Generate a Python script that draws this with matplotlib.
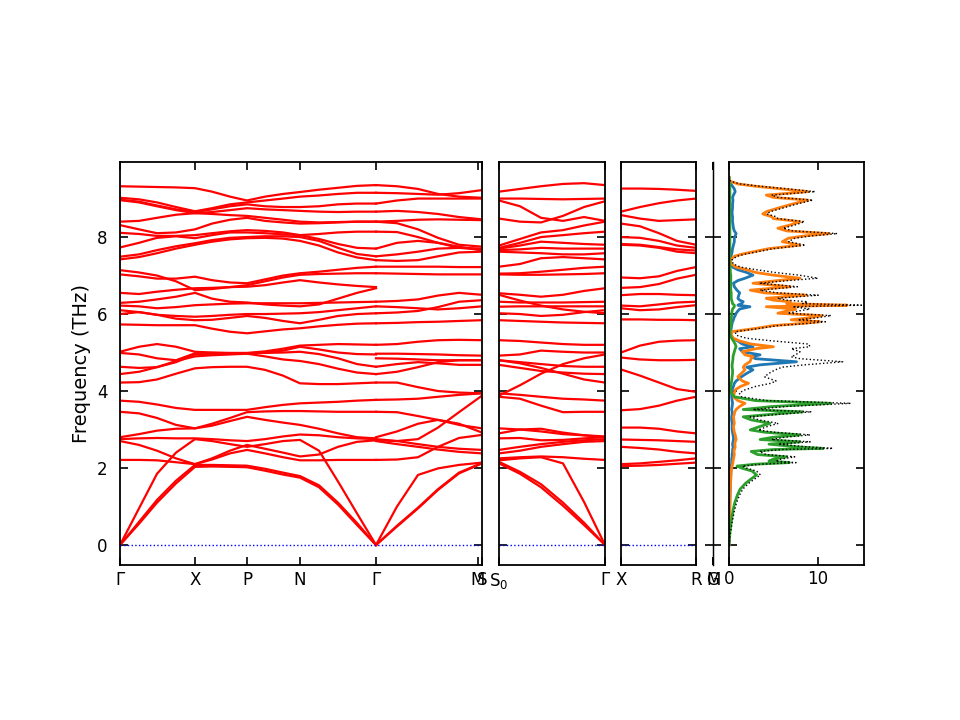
import matplotlib
matplotlib.use("Agg")
import matplotlib.pyplot as plt
import numpy as np

plt.rcParams['font.family'] = ['DejaVu Sans']
plt.rcParams['font.size'] = 12

# ---------------- band structure data (THz) ----------------
# Path A: Gamma-X-P-N-Gamma (path distance, arbitrary units)
qA = [0, 19, 37, 56, 75, 92, 110, 127, 145, 163, 180, 199, 218, 237, 256]
bands_A = [
    [0, .55, 1.10, 1.60, 2.03, 2.04, 2.03, 2.02, 1.93, 1.83, 1.75, 1.50, 1.05, .52, 0],
    [0, .60, 1.17, 1.67, 2.08, 2.08, 2.07, 2.06, 1.98, 1.88, 1.79, 1.55, 1.10, .57, 0],
    [0, .95, 1.85, 2.40, 2.75, 2.70, 2.62, 2.55, 2.62, 2.70, 2.73, 2.45, 1.65, .82, 0],
    [2.21, 2.21, 2.20, 2.15, 2.10, 2.22, 2.38, 2.47, 2.38, 2.28, 2.20, 2.20, 2.21, 2.21, 2.21],
    [2.70, 2.60, 2.45, 2.25, 2.10, 2.25, 2.45, 2.60, 2.50, 2.40, 2.30, 2.35, 2.55, 2.68, 2.72],
    [2.75, 2.77, 2.78, 2.77, 2.77, 2.75, 2.72, 2.70, 2.75, 2.82, 2.87, 2.85, 2.80, 2.77, 2.75],
    [2.80, 2.88, 2.97, 3.02, 3.03, 3.15, 3.30, 3.45, 3.47, 3.48, 3.48, 3.47, 3.46, 3.46, 3.46],
    [3.75, 3.72, 3.65, 3.56, 3.51, 3.51, 3.51, 3.51, 3.58, 3.64, 3.68, 3.70, 3.72, 3.75, 3.77],
    [3.46, 3.42, 3.30, 3.12, 3.03, 3.10, 3.22, 3.33, 3.25, 3.18, 3.12, 3.02, 2.90, 2.80, 2.77],
    [4.22, 4.23, 4.30, 4.45, 4.59, 4.62, 4.63, 4.63, 4.55, 4.40, 4.20, 4.18, 4.18, 4.20, 4.22],
    [4.44, 4.50, 4.62, 4.78, 4.90, 4.93, 4.95, 4.97, 4.90, 4.82, 4.78, 4.70, 4.58, 4.48, 4.44],
    [4.63, 4.60, 4.62, 4.75, 4.95, 4.97, 4.98, 4.98, 4.99, 5.00, 5.02, 4.96, 4.85, 4.70, 4.63],
    [4.99, 4.95, 4.85, 4.80, 4.98, 4.99, 4.98, 4.98, 5.00, 5.05, 5.15, 5.08, 5.00, 4.96, 4.95],
    [5.02, 5.15, 5.22, 5.15, 5.02, 5.00, 4.99, 4.99, 5.03, 5.10, 5.18, 5.20, 5.22, 5.21, 5.20],
    [5.73, 5.72, 5.71, 5.71, 5.71, 5.62, 5.54, 5.50, 5.55, 5.60, 5.63, 5.68, 5.72, 5.75, 5.76],
    [6.00, 6.05, 5.98, 5.88, 5.84, 5.85, 5.90, 5.95, 5.90, 5.82, 5.76, 5.85, 5.95, 6.00, 6.02],
    [6.10, 6.05, 5.98, 5.95, 5.93, 5.95, 5.98, 6.00, 6.00, 6.01, 6.02, 6.05, 6.10, 6.15, 6.20],
    [6.22, 6.20, 6.15, 6.18, 6.23, 6.25, 6.27, 6.28, 6.28, 6.28, 6.28, 6.29, 6.30, 6.31, 6.32],
    [6.29, 6.32, 6.38, 6.45, 6.55, 6.40, 6.32, 6.30, 6.25, 6.22, 6.20, 6.25, 6.40, 6.55, 6.67],
    [6.55, 6.52, 6.58, 6.63, 6.67, 6.68, 6.70, 6.71, 6.75, 6.82, 6.88, 6.82, 6.77, 6.73, 6.70],
    [7.03, 6.98, 6.92, 6.92, 6.97, 6.88, 6.82, 6.80, 6.90, 7.00, 7.06, 7.10, 7.15, 7.20, 7.23],
    [7.14, 7.08, 7.00, 6.85, 6.62, 6.65, 6.70, 6.75, 6.85, 6.95, 7.02, 7.04, 7.05, 7.06, 7.06],
    [7.42, 7.48, 7.58, 7.70, 7.80, 7.88, 7.94, 7.97, 7.98, 7.96, 7.90, 7.78, 7.60, 7.47, 7.40],
    [7.49, 7.55, 7.66, 7.76, 7.84, 7.92, 7.98, 8.00, 8.02, 8.02, 8.00, 7.90, 7.72, 7.56, 7.50],
    [7.73, 7.85, 7.98, 8.02, 7.97, 8.05, 8.12, 8.12, 8.10, 8.07, 8.05, 7.95, 7.82, 7.72, 7.70],
    [8.11, 8.08, 8.03, 8.03, 8.05, 8.10, 8.15, 8.18, 8.16, 8.12, 8.05, 8.08, 8.12, 8.14, 8.14],
    [8.31, 8.20, 8.10, 8.12, 8.20, 8.35, 8.45, 8.50, 8.42, 8.38, 8.35, 8.36, 8.38, 8.40, 8.40],
    [8.40, 8.42, 8.50, 8.58, 8.62, 8.60, 8.57, 8.55, 8.50, 8.45, 8.40, 8.38, 8.39, 8.40, 8.40],
    [8.96, 8.90, 8.80, 8.70, 8.62, 8.65, 8.70, 8.75, 8.72, 8.70, 8.68, 8.66, 8.65, 8.66, 8.66],
    [8.97, 8.92, 8.82, 8.72, 8.65, 8.72, 8.80, 8.85, 8.80, 8.78, 8.78, 8.80, 8.85, 8.87, 8.87],
    [9.02, 8.98, 8.90, 8.78, 8.67, 8.75, 8.85, 8.90, 8.95, 9.00, 9.05, 9.08, 9.12, 9.15, 9.15],
    [9.32, 9.31, 9.30, 9.29, 9.27, 9.18, 9.05, 8.95, 9.05, 9.12, 9.17, 9.23, 9.28, 9.33, 9.35],
]

# Path B: Gamma-M-S
qB = [256, 277, 298, 318, 339, 362]
bands_B = [
    [0, .48, .95, 1.43, 1.86, 2.12],
    [0, .50, .97, 1.45, 1.88, 2.13],
    [0, 1.00, 1.82, 1.99, 2.08, 2.14],
    [2.21, 2.22, 2.28, 2.55, 2.78, 2.86],
    [2.72, 2.70, 2.75, 3.05, 3.45, 3.88],
    [2.75, 2.70, 2.62, 2.55, 2.50, 2.47],
    [2.80, 2.95, 3.15, 3.25, 3.15, 2.92],
    [3.46, 3.45, 3.35, 3.25, 3.12, 3.03],
    [3.77, 3.78, 3.80, 3.85, 3.90, 3.94],
    [2.70, 2.62, 2.55, 2.48, 2.42, 2.38],
    [4.22, 4.22, 4.10, 4.00, 3.96, 3.94],
    [4.44, 4.50, 4.62, 4.75, 4.80, 4.80],
    [4.63, 4.70, 4.75, 4.72, 4.68, 4.68],
    [4.85, 4.84, 4.82, 4.80, 4.80, 4.80],
    [5.20, 5.22, 5.28, 5.32, 5.33, 5.32],
    [4.97, 4.97, 4.96, 4.95, 4.93, 4.92],
    [5.76, 5.77, 5.79, 5.80, 5.82, 5.84],
    [6.02, 6.04, 6.08, 6.18, 6.32, 6.36],
    [6.20, 6.18, 6.15, 6.12, 6.15, 6.20],
    [6.32, 6.34, 6.38, 6.48, 6.55, 6.50],
    [7.06, 7.05, 7.04, 7.03, 7.03, 7.03],
    [7.23, 7.23, 7.23, 7.23, 7.22, 7.22],
    [7.40, 7.38, 7.40, 7.50, 7.60, 7.62],
    [7.50, 7.55, 7.62, 7.70, 7.72, 7.68],
    [7.70, 7.85, 7.90, 7.85, 7.75, 7.65],
    [8.14, 8.13, 8.00, 7.85, 7.72, 7.70],
    [8.40, 8.36, 8.20, 7.98, 7.80, 7.75],
    [8.40, 8.42, 8.45, 8.46, 8.45, 8.44],
    [8.66, 8.68, 8.65, 8.60, 8.52, 8.46],
    [8.87, 8.95, 9.00, 9.00, 9.00, 9.00],
    [9.15, 9.14, 9.12, 9.10, 9.14, 9.22],
    [9.35, 9.32, 9.25, 9.12, 9.05, 9.02],
]

# Panel 2: S0-Gamma
q2 = [0, 21, 42, 64, 85, 106]
bands_2 = [
    [2.12, 1.85, 1.50, 1.02, 0.52, 0],
    [2.16, 1.90, 1.58, 1.10, 0.58, 0],
    [2.20, 2.25, 2.28, 2.12, 1.12, 0],
    [2.25, 2.28, 2.30, 2.28, 2.24, 2.21],
    [2.38, 2.45, 2.55, 2.62, 2.68, 2.70],
    [2.47, 2.55, 2.62, 2.68, 2.72, 2.75],
    [2.77, 2.78, 2.72, 2.73, 2.77, 2.80],
    [2.90, 3.00, 3.02, 2.92, 2.85, 2.82],
    [3.03, 3.00, 2.95, 2.88, 2.85, 2.80],
    [3.85, 3.80, 3.62, 3.45, 3.46, 3.46],
    [3.94, 3.90, 3.85, 3.80, 3.78, 3.75],
    [3.88, 4.15, 4.45, 4.70, 4.85, 4.95],
    [4.68, 4.60, 4.52, 4.48, 4.45, 4.44],
    [4.80, 4.75, 4.70, 4.65, 4.63, 4.63],
    [4.80, 4.72, 4.60, 4.45, 4.30, 4.22],
    [4.92, 4.95, 5.05, 5.02, 5.00, 5.00],
    [5.32, 5.30, 5.26, 5.22, 5.20, 5.20],
    [5.84, 5.82, 5.80, 5.78, 5.77, 5.76],
    [6.02, 6.00, 5.95, 5.98, 6.05, 6.10],
    [6.19, 6.20, 6.20, 6.20, 6.20, 6.20],
    [6.32, 6.30, 6.30, 6.30, 6.31, 6.32],
    [6.50, 6.35, 6.22, 6.12, 6.06, 6.02],
    [6.54, 6.50, 6.45, 6.50, 6.60, 6.67],
    [7.03, 7.02, 7.02, 7.03, 7.04, 7.06],
    [7.05, 7.06, 7.10, 7.15, 7.20, 7.23],
    [7.23, 7.30, 7.45, 7.48, 7.45, 7.42],
    [7.62, 7.60, 7.58, 7.55, 7.55, 7.58],
    [7.66, 7.68, 7.72, 7.70, 7.70, 7.70],
    [7.70, 7.78, 7.88, 7.85, 7.82, 7.80],
    [7.72, 7.85, 8.00, 8.05, 8.10, 8.14],
    [7.78, 7.95, 8.12, 8.18, 8.30, 8.40],
    [8.48, 8.40, 8.38, 8.55, 8.78, 8.93],
    [8.95, 8.80, 8.50, 8.42, 8.52, 8.42],
    [9.00, 9.00, 8.99, 8.98, 8.99, 9.00],
    [9.18, 9.25, 9.32, 9.38, 9.40, 9.35],
]

# Panel 3: X-R
q3 = [0, 19, 38, 56, 75]
bands_3 = [
    [9.26, 9.26, 9.25, 9.23, 9.20],
    [8.66, 8.78, 8.88, 8.95, 9.00],
    [8.57, 8.48, 8.42, 8.44, 8.46],
    [8.35, 8.28, 8.10, 7.90, 7.80],
    [8.00, 7.98, 7.90, 7.78, 7.72],
    [7.82, 7.80, 7.74, 7.68, 7.65],
    [7.80, 7.78, 7.72, 7.62, 7.58],
    [6.95, 6.93, 6.98, 7.12, 7.22],
    [6.68, 6.70, 6.78, 6.92, 7.02],
    [6.49, 6.52, 6.52, 6.50, 6.49],
    [6.22, 6.20, 6.25, 6.30, 6.32],
    [6.15, 6.10, 6.12, 6.18, 6.23],
    [5.86, 5.86, 5.85, 5.85, 5.84],
    [5.00, 5.18, 5.28, 5.31, 5.32],
    [4.87, 4.82, 4.80, 4.80, 4.81],
    [4.56, 4.40, 4.22, 4.05, 3.98],
    [3.50, 3.53, 3.62, 3.75, 3.85],
    [3.05, 3.05, 3.02, 2.95, 2.90],
    [2.74, 2.73, 2.72, 2.70, 2.68],
    [2.55, 2.52, 2.48, 2.42, 2.38],
    [2.10, 2.12, 2.16, 2.20, 2.25],
    [2.05, 2.06, 2.08, 2.11, 2.14],
]

# Panel 4: G-M (very short)
q4 = [0, 2]

# tick labels of each band panel
ticks_1 = [0, 75, 127, 180, 256, 358, 362]
labels_1 = ['Γ', 'X', 'P', 'N', 'Γ', 'M', 'S']
ticks_2 = [0, 106]
labels_2 = ['S$_0$', 'Γ']
ticks_3 = [0, 75]
labels_3 = ['X', 'R']
ticks_4 = [0, 2]
labels_4 = ['G', 'M']

# ---------------- DOS data ----------------
dos_freq = [0.00, 0.30, 0.60, 0.90, 1.10, 1.30, 1.45, 1.60, 1.70, 1.82, 1.92, 2.00, 2.05, 2.10,
            2.14, 2.18, 2.23, 2.29, 2.35, 2.43, 2.48, 2.51, 2.55, 2.62, 2.68, 2.74, 2.80, 2.86,
            2.93, 2.99, 3.08, 3.16, 3.25, 3.33, 3.40, 3.46, 3.52, 3.60, 3.68, 3.75, 3.85, 3.95,
            4.03, 4.12, 4.20, 4.26, 4.37, 4.46, 4.55, 4.62, 4.68, 4.76, 4.84, 4.89, 4.94, 5.02,
            5.10, 5.15, 5.22, 5.30, 5.37, 5.45, 5.54, 5.63, 5.70, 5.76, 5.80, 5.85, 5.90, 5.96,
            6.02, 6.08, 6.13, 6.19, 6.23, 6.27, 6.32, 6.36, 6.41, 6.49, 6.55, 6.62, 6.71, 6.80,
            6.87, 6.93, 7.01, 7.08, 7.15, 7.22, 7.30, 7.40, 7.50, 7.56, 7.62, 7.70, 7.79, 7.88,
            7.97, 8.03, 8.09, 8.16, 8.23, 8.32, 8.40, 8.48, 8.53, 8.60, 8.66, 8.75, 8.85, 8.96,
            9.03, 9.09, 9.18, 9.25, 9.32, 9.38, 9.45, 9.55]
dos_blue = [0, .02, .05, .08, .10, .12, .14, .16, .18, .20, .22, .25, .25, .28,
            .30, .30, .30, .35, .35, .40, .40, .45, .45, .40, .45, .50, .50, .45,
            .40, .35, .35, .35, .30, .30, .35, .35, .30, .35, .40, .35, .30, .30,
            .35, .50, .60, .80, 1.40, 2.00, 2.70, 2.00, 3.50, 7.60, 3.00, 2.50, 3.50, 1.50,
            1.20, 2.70, 1.50, 1.00, .40, .20, .20, .25, .30, .35, .40, .50, .55, .70,
            .80, 1.00, 1.20, 2.36, 1.00, 1.40, 1.60, 1.20, 1.00, 1.10, 1.20, .90, .60, .50,
            1.00, 1.80, 2.70, 2.00, 1.00, .40, .15, .10, .20, .30, .35, .40, .50, .60,
            .60, .70, .80, .60, .50, .45, .40, .40, .40, .35, .35, .40, .40, .45,
            .40, .50, .70, .60, .40, .20, .05, 0]
dos_orange = [0, .02, .05, .08, .10, .12, .15, .18, .20, .22, .25, .30, .35, .40,
              .45, .45, .50, .55, .60, .55, .60, .65, .70, .65, .70, .80, .75, .70,
              .60, .55, .50, .60, .55, .50, .60, .65, .80, 1.20, 1.80, 1.00, .50, .60,
              .70, 1.30, 2.20, 1.50, 1.00, 1.40, 1.80, 1.60, 1.80, 2.35, 2.50, 2.70, 1.80, 1.50,
              3.00, 5.00, 2.50, 1.20, .50, .25, .30, 3.10, 5.00, 8.50, 10.2, 7.00, 9.00, 10.5,
              5.50, 6.50, 7.50, 4.20, 13.3, 6.50, 6.90, 5.00, 4.20, 8.70, 4.00, 2.40, 6.90, 2.70,
              5.50, 8.00, 5.00, 3.00, 2.00, .80, .25, .15, .60, 1.50, 2.80, 4.50, 8.00, 6.00,
              6.70, 8.50, 11.3, 6.50, 5.50, 7.00, 8.00, 5.00, 4.80, 3.80, 4.20, 5.50, 7.00, 8.90,
              5.00, 4.20, 8.90, 6.00, 3.00, 1.00, .10, 0]
dos_green = [0, .10, .25, .45, .65, .95, 1.25, 1.85, 2.40, 3.10, 2.60, 1.40, .90, 3.00,
             6.80, 4.50, 5.00, 6.50, 3.20, 2.50, 5.00, 10.6, 7.60, 4.50, 8.00, 3.50, 5.00, 8.00,
             4.00, 2.40, 3.50, 4.60, 2.50, 1.60, 5.00, 8.30, 1.60, 5.00, 11.5, 3.00, .60, .25,
             .20, .20, .25, .30, .35, .40, .40, .35, .35, .40, .45, .45, .50, .60,
             .70, .80, .70, .50, .30, .15, .10, .15, .20, .25, .25, .25, .25, .30,
             .30, .35, .40, .60, .60, .40, .35, .30, .25, .25, .25, .20, .20, .20,
             .20, .20, .20, .15, .15, .10, .08, .05, .08, .10, .10, .10, .10, .10,
             .10, .10, .10, .10, .10, .10, .10, .10, .10, .10, .10, .10, .10, .10,
             .10, .10, .10, .10, .10, .05, .02, 0]
dos_total = [0, .15, .36, .62, .85, 1.2, 1.55, 2.2, 2.8, 3.55, 3.1, 1.95, 1.5, 3.7,
             7.55, 5.25, 5.8, 7.4, 4.15, 3.45, 6.0, 11.7, 8.75, 5.55, 9.15, 4.8, 6.25, 9.15,
             5.0, 3.3, 4.35, 5.55, 3.35, 2.4, 5.95, 9.3, 2.7, 6.55, 13.7, 4.35, 1.4, 1.15,
             1.8, 3.0, 4.7, 5.3, 4.0, 4.5, 5.2, 6.0, 8.5, 12.8, 8.0, 7.0, 7.5, 8.0,
             7.0, 9.1, 9.0, 5.0, 2.0, .8, .7, 3.5, 5.5, 9.1, 10.85, 7.75, 9.8, 11.5,
             6.6, 7.85, 9.1, 7.16, 14.9, 8.3, 8.85, 6.5, 5.45, 10.05, 5.45, 3.5, 7.7, 3.4,
             6.7, 10.0, 7.9, 5.15, 3.15, 1.3, .48, .3, .88, 1.9, 3.25, 5.0, 8.6, 6.7,
             7.4, 9.3, 12.2, 7.2, 6.1, 7.55, 8.5, 5.5, 5.3, 4.25, 4.65, 6.0, 7.5, 9.45,
             5.5, 4.8, 9.7, 6.7, 3.5, 1.25, .17, 0]
dos_ticks = [0, 10]

# ---------------- layout ----------------
W, H = 960, 720
fig = plt.figure(figsize=(9.6, 7.2), dpi=100)


def rect(x0, x1, y_top=162, y_bot=565):
    return [x0 / W, (H - y_bot) / H, (x1 - x0) / W, (y_bot - y_top) / H]


ylim = (-0.52, 9.95)
spine_lw = 1.3


def style(ax, lw=spine_lw):
    for s in ax.spines.values():
        s.set_linewidth(lw)
    ax.tick_params(axis='both', which='major', direction='in', length=6, width=1.2,
                   left=True, right=True, top=True, bottom=True, labelsize=12)
    ax.tick_params(axis='y', pad=9)
    ax.set_ylim(*ylim)
    ax.set_yticks([0, 2, 4, 6, 8])


def band_panel(ax, segments, ticks, labels, lw=spine_lw):
    style(ax, lw)
    for q, bands in segments:
        for b in bands:
            ax.plot(q, b, color='r', lw=1.6)
    ax.set_xlim(ticks[0], ticks[-1])
    ax.axhline(0, color='b', ls=':', lw=1.0)
    ax.set_xticks(ticks)
    ax.set_xticklabels(labels)
    ax.tick_params(axis='x', pad=4)


ax1 = fig.add_axes(rect(120, 482))
band_panel(ax1, [(qA, bands_A), (qB, bands_B)], ticks_1, labels_1)
ax1.set_ylabel('Frequency (THz)', fontsize=14)

ax2 = fig.add_axes(rect(499, 605))
band_panel(ax2, [(q2, bands_2)], ticks_2, labels_2)
ax2.set_yticklabels([])

ax3 = fig.add_axes(rect(621, 696))
band_panel(ax3, [(q3, bands_3)], ticks_3, labels_3)
ax3.set_yticklabels([])

ax4 = fig.add_axes(rect(712.6, 713.4))
band_panel(ax4, [], ticks_4, labels_4, lw=0.9)
ax4.set_yticklabels([])

ax5 = fig.add_axes(rect(729, 864))
style(ax5)
ax5.plot(dos_blue, dos_freq, color='#1f77b4', lw=2)
ax5.plot(dos_orange, dos_freq, color='#ff7f0e', lw=2)
ax5.plot(dos_green, dos_freq, color='#2ca02c', lw=2)
ax5.plot(dos_total, dos_freq, color='k', ls=':', lw=1)
ax5.set_xlim(0, 15.2)
ax5.set_xticks(dos_ticks)
ax5.set_yticklabels([])

fig.savefig('out.png', dpi=100)
